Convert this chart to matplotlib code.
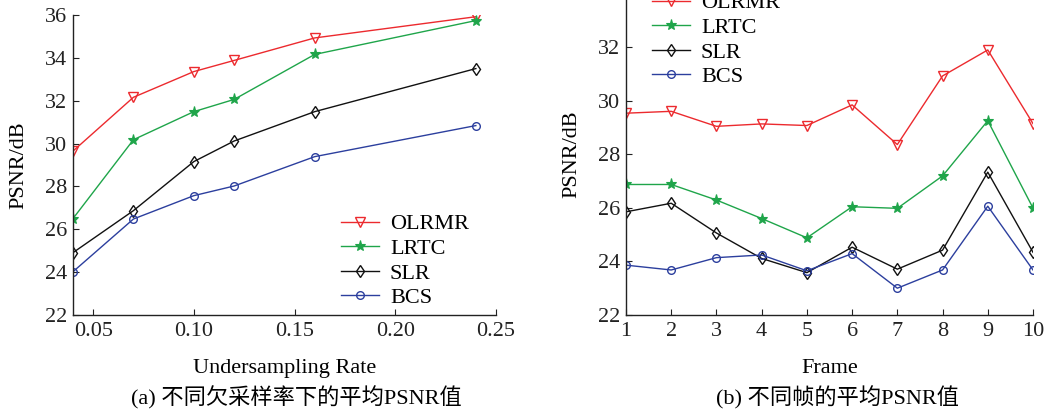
import matplotlib
matplotlib.use("Agg")
import matplotlib.pyplot as plt

# ---- data ----
rates = [0.04, 0.07, 0.10, 0.12, 0.16, 0.24]
rate_olrmr = [29.65, 32.16, 33.36, 33.88, 34.93, 35.92]
rate_lrtc = [26.50, 30.18, 31.49, 32.06, 34.16, 35.74]
rate_slr = [24.91, 26.87, 29.16, 30.12, 31.49, 33.50]
rate_bcs = [24.02, 26.48, 27.57, 28.02, 29.39, 30.84]

frames = [1, 2, 3, 4, 5, 6, 7, 8, 9, 10]
frame_olrmr = [29.53, 29.60, 29.04, 29.13, 29.07, 29.84, 28.36, 30.92, 31.89, 29.14]
frame_lrtc = [26.87, 26.87, 26.29, 25.60, 24.88, 26.04, 25.98, 27.19, 29.25, 25.99]
frame_slr = [25.85, 26.17, 25.06, 24.11, 23.58, 24.53, 23.71, 24.42, 27.33, 24.34]
frame_bcs = [23.86, 23.68, 24.14, 24.24, 23.65, 24.29, 23.00, 23.68, 26.06, 23.68]

rate_ticks = [0.05, 0.10, 0.15, 0.20, 0.25]
rate_ticklabels = ["0.05", "0.10", "0.15", "0.20", "0.25"]
psnr_ticks_a = [22, 24, 26, 28, 30, 32, 34, 36]
psnr_ticks_b = [22, 24, 26, 28, 30, 32, 34]

names = ["OLRMR", "LRTC", "SLR", "BCS"]
caption_a = "(a) 不同欠采样率下的平均PSNR值"
caption_b = "(b) 不同帧的平均PSNR值"

plt.rcParams['font.family'] = ['Liberation Serif', 'Noto Sans CJK SC']

W, H = 1054, 412
FS = 16
fig = plt.figure(figsize=(W / 100, H / 100), dpi=100)

styles = [
    dict(color='#ec2a2e', marker='v', mfc='none', mec='#ec2a2e', ms=7, mew=1.0),
    dict(color='#1fa54a', marker='*', mfc='#1fa54a', mec='#1fa54a', ms=8, mew=0.8),
    dict(color='#111111', marker='d', mfc='none', mec='#111111', ms=6, mew=1.0),
    dict(color='#2c3f9e', marker='o', mfc='none', mec='#2c3f9e', ms=5.5, mew=1.0),
]

def style_axes(ax):
    for s in ['top', 'right']:
        ax.spines[s].set_visible(False)
    for s in ['left', 'bottom']:
        ax.spines[s].set_linewidth(1.0)
        ax.spines[s].set_color('#222222')
    ax.tick_params(direction='in', length=4, width=0.8, labelsize=FS, colors='#222222')
    ax.tick_params(axis='x', pad=5)
    ax.tick_params(axis='y', pad=4)

def add_legend(ax, left_px, center_px):
    ax.legend(loc='center left', frameon=False, fontsize=FS, handlelength=1.7,
              labelspacing=0.18, handletextpad=0.5, borderpad=0.4,
              bbox_to_anchor=(left_px / W, (H - center_px) / H),
              bbox_transform=fig.transFigure)

ax1 = fig.add_axes([73 / W, (H - 315) / H, (496 - 73) / W, 300 / H])
for vals, name, st in zip([rate_olrmr, rate_lrtc, rate_slr, rate_bcs], names, styles):
    ax1.plot(rates, vals, lw=1.0, label=name, **st)
ax1.set_xlim(0.04, 0.25)
ax1.set_ylim(22, 36)
ax1.set_xticks(rate_ticks)
ax1.set_xticklabels(rate_ticklabels)
ax1.set_yticks(psnr_ticks_a)
style_axes(ax1)
ax1.set_xlabel("Undersampling Rate", fontsize=FS, labelpad=13)
ax1.set_ylabel("PSNR/dB", fontsize=FS, labelpad=12)
add_legend(ax1, 321, 261)

top_b = -6.6
ax2 = fig.add_axes([626 / W, (H - 315) / H, (1033 - 626) / W, (315 - top_b) / H])
for vals, name, st in zip([frame_olrmr, frame_lrtc, frame_slr, frame_bcs], names, styles):
    ax2.plot(frames, vals, lw=1.0, label=name, **st)
ax2.set_xlim(1, 10)
ax2.set_ylim(22, 34)
ax2.set_xticks(frames)
ax2.set_yticks(psnr_ticks_b)
style_axes(ax2)
ax2.set_xlabel("Frame", fontsize=FS, labelpad=13)
ax2.set_ylabel("PSNR/dB", fontsize=FS, labelpad=12)
add_legend(ax2, 632, 40)

fig.text(296 / W, (H - 398) / H, caption_a, ha='center', va='center', fontsize=FS)
fig.text(838 / W, (H - 398) / H, caption_b, ha='center', va='center', fontsize=FS)

fig.savefig("out.png", dpi=100)
